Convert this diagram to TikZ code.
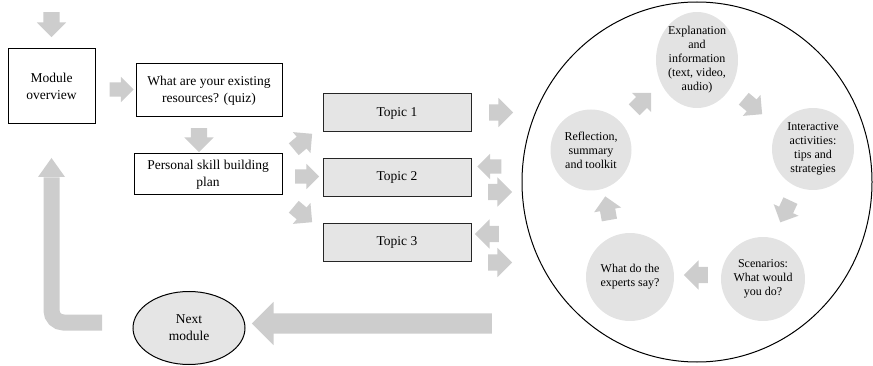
\documentclass[tikz,border=0pt]{standalone}
\usepackage{fontspec}
\setmainfont{Liberation Serif}
\usetikzlibrary{shapes.arrows,shapes.geometric}
\definecolor{arrowgray}{HTML}{CDCDCD}
\definecolor{boxgray}{HTML}{E5E5E5}
\definecolor{circgray}{HTML}{E3E3E3}
\begin{document}
\begin{tikzpicture}[x=1pt,y=-1pt,
  wbox/.style={draw=black, line width=1pt, fill=white, align=center, inner sep=2pt,
    font=\fontsize{13.5}{17}\selectfont},
  topicbox/.style={draw=black!85, line width=1pt, fill=boxgray, align=center,
    minimum width=148pt, minimum height=38pt, font=\fontsize{13.5}{17}\selectfont},
  stepcirc/.style={circle, fill=circgray, draw=none, align=center, inner sep=0pt,
    font=\fontsize{12}{14}\selectfont},
  arr/.style={single arrow, fill=arrowgray, draw=none, inner xsep=0pt, inner ysep=7.5pt,
    minimum height=24pt, minimum width=0pt, single arrow head extend=6pt},
  wide/.style={inner ysep=8pt, single arrow head extend=6.5pt}
]
\useasboundingbox (0,0) rectangle (873,366);

% big circle
\node[ellipse, draw=black, line width=1pt, minimum width=350pt, minimum height=360pt, inner sep=0pt] (big) at (697,182) {};

% left column boxes
\node[wbox, minimum width=87pt, minimum height=75pt] (mod) at (51.5,86.5) {Module\\overview};
\node[wbox, minimum width=146pt, minimum height=53pt] (quiz) at (209,90.5) {What are your existing\\resources? (quiz)};
\node[wbox, minimum width=148pt, minimum height=41pt] (plan) at (208,174.5) {Personal skill building\\plan};

% topics
\node[topicbox] (t1) at (397,113) {Topic 1};
\node[topicbox] (t2) at (397,177.5) {Topic 2};
\node[topicbox] (t3) at (397,242.5) {Topic 3};

% next module
\node[ellipse, draw=black, line width=1pt, fill=boxgray, minimum width=112pt, minimum height=73pt,
  align=center, inner sep=0pt, font=\fontsize{13.5}{17}\selectfont] (next) at (189,328) {Next\\module};

% circle contents
\node[ellipse, fill=circgray, minimum width=80pt, minimum height=96pt, align=center, inner sep=0pt,
  font=\fontsize{12}{14}\selectfont] (c1) at (697,60) {Explanation\\and\\information\\(text, video,\\audio)};
\node[stepcirc, minimum size=82pt] (c2) at (813,149) {Interactive\\activities:\\tips and\\strategies};
\node[stepcirc, minimum size=84pt] (c3) at (763,279) {Scenarios:\\What would\\you do?};
\node[stepcirc, minimum size=88pt] (c4) at (630,277) {What do the\\experts say?};
\node[stepcirc, minimum size=81pt] (c5) at (591,150) {Reflection,\\summary\\and toolkit};

% block arrows, left part
\node[arr, wide, minimum height=25pt, rotate=-90] (a0) at (51.5,20.5) {};
\node[arr, inner ysep=7pt, single arrow head extend=5.5pt] (a1) at (118,89.5) {};
\node[arr, wide, rotate=-90] (a2) at (199,136) {};
\node[arr, rotate=40] (a3) at (300,144) {};
\node[arr, inner ysep=7pt, single arrow head extend=5.5pt] (a4) at (303.5,176.5) {};
\node[arr, rotate=-40] (a5) at (300,212) {};

% block arrows, topics <-> circle
\node[arr, wide] (a6) at (497,112.5) {};
\node[arr, inner ysep=7pt, single arrow head extend=5.5pt, rotate=180] (a7) at (493,166.5) {};
\node[arr, wide] (a8) at (496,192) {};
\node[arr, wide, rotate=180] (a9) at (491,234) {};
\node[arr, wide] (a10) at (496,262.5) {};

% arrows inside the circle
\node[arr, rotate=45] (b1) at (640,104) {};
\node[arr, rotate=-40] (b2) at (750,104) {};
\node[arr, rotate=-115] (b3) at (787,208) {};
\node[arr, wide, rotate=180] (b4) at (700,275) {};
\node[arr, rotate=100] (b5) at (608,212) {};

% big back arrow
\node[arr, minimum height=240pt, inner ysep=10pt, single arrow head extend=11.5pt, rotate=180] (back) at (377,323.5) {};

% L-shaped return arrow
\coordinate (Ltail) at (102,322.5);
\coordinate (Lcorner) at (51.5,322.5);
\coordinate (Lbase) at (51.5,177);
\coordinate (Ltip) at (51.5,158);
\draw[arrowgray, line width=16pt, rounded corners=12pt] (Ltail) -- (Lcorner) -- ([yshift=-0.5pt]Lbase);
\fill[arrowgray] ([xshift=-13.5pt]Lbase) -- (Ltip) -- ([xshift=13.5pt]Lbase) -- cycle;
\end{tikzpicture}
\end{document}
